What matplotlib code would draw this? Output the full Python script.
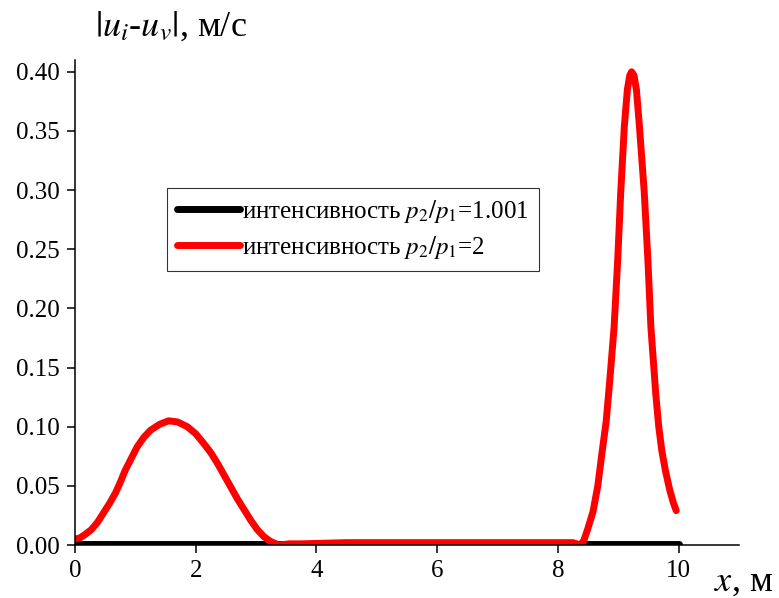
import matplotlib
matplotlib.use('Agg')
import matplotlib.pyplot as plt

plt.rcParams['font.family'] = ['Liberation Serif', 'DejaVu Serif']
plt.rcParams['mathtext.fontset'] = 'stix'

# black curve: p2/p1 = 1.001 (practically zero everywhere)
x_black = [0, 2, 4, 6, 8, 10]
y_black = [0.0008, 0.0008, 0.0008, 0.0008, 0.0008, 0.0008]

# red curve: p2/p1 = 2
x_red = [0, 0.08, 0.17, 0.27, 0.37, 0.47, 0.57, 0.67, 0.75, 0.83, 0.93,
         1.03, 1.14, 1.25, 1.4, 1.55, 1.7, 1.86, 2.0, 2.13, 2.25, 2.36,
         2.47, 2.58, 2.69, 2.8, 2.91, 3.02, 3.13, 3.24, 3.38, 3.55, 3.74,
         4.5, 5.5, 6.5, 7.5, 8.1, 8.25, 8.37, 8.43, 8.49, 8.58, 8.66,
         8.73, 8.8, 8.86, 8.93, 8.99, 9.04, 9.1, 9.15, 9.19, 9.22, 9.26,
         9.3, 9.35, 9.43, 9.49, 9.54, 9.62, 9.67, 9.72, 9.78, 9.85, 9.91,
         9.96]
y_red = [0.005, 0.006, 0.009, 0.013, 0.019, 0.027, 0.035, 0.044, 0.053,
         0.063, 0.073, 0.083, 0.091, 0.097, 0.102, 0.105, 0.104, 0.100,
         0.094, 0.086, 0.078, 0.069, 0.059, 0.049, 0.039, 0.030, 0.021,
         0.013, 0.007, 0.003, 0.000, 0.001, 0.001, 0.002, 0.002, 0.002,
         0.002, 0.002, 0.002, 0.000, 0.004, 0.013, 0.028, 0.050, 0.078,
         0.105, 0.140, 0.184, 0.241, 0.298, 0.354, 0.385, 0.397, 0.400,
         0.397, 0.385, 0.354, 0.298, 0.241, 0.184, 0.128, 0.100, 0.080,
         0.063, 0.047, 0.036, 0.029]

x_ticks = [0, 2, 4, 6, 8, 10]
y_ticks = [0.00, 0.05, 0.10, 0.15, 0.20, 0.25, 0.30, 0.35, 0.40]

fig = plt.figure(figsize=(7.79, 5.98), dpi=100)
ax = fig.add_axes([0.0963, 0.0886, 0.8524, 0.8111])

ax.plot(x_black, y_black, color='black', lw=5, solid_capstyle='round',
        label=r'интенсивность $p_2/p_1$=1.001')
ax.plot(x_red, y_red, color='#ff0000', lw=5, solid_capstyle='round',
        solid_joinstyle='round', label=r'интенсивность $p_2/p_1$=2')

ax.set_xlim(0, 11)
ax.set_ylim(0, 0.41)
ax.set_xticks(x_ticks)
ax.set_yticks(y_ticks)
ax.set_yticklabels(['%.2f' % v for v in y_ticks])
ax.spines['top'].set_visible(False)
ax.spines['right'].set_visible(False)
ax.spines['left'].set_linewidth(1.1)
ax.spines['bottom'].set_linewidth(1.1)
ax.tick_params(axis='both', direction='out', length=6, width=1.1,
               labelsize=18, pad=5)

leg = ax.legend(loc='upper left', bbox_to_anchor=(0.139, 0.736),
                borderaxespad=0, fontsize=18, frameon=True, fancybox=False,
                handlelength=2.5, handletextpad=0.1, borderpad=0.4,
                labelspacing=0.35)
leg.get_frame().set_edgecolor('black')
leg.get_frame().set_linewidth(0.8)

fig.text(0.122, 0.94, r'$|u_i$-$u_v|$, м/с', fontsize=26, va='baseline')
fig.text(0.917, 0.012, r'$x$, м', fontsize=26, va='baseline')

fig.savefig('out.png', dpi=100)
